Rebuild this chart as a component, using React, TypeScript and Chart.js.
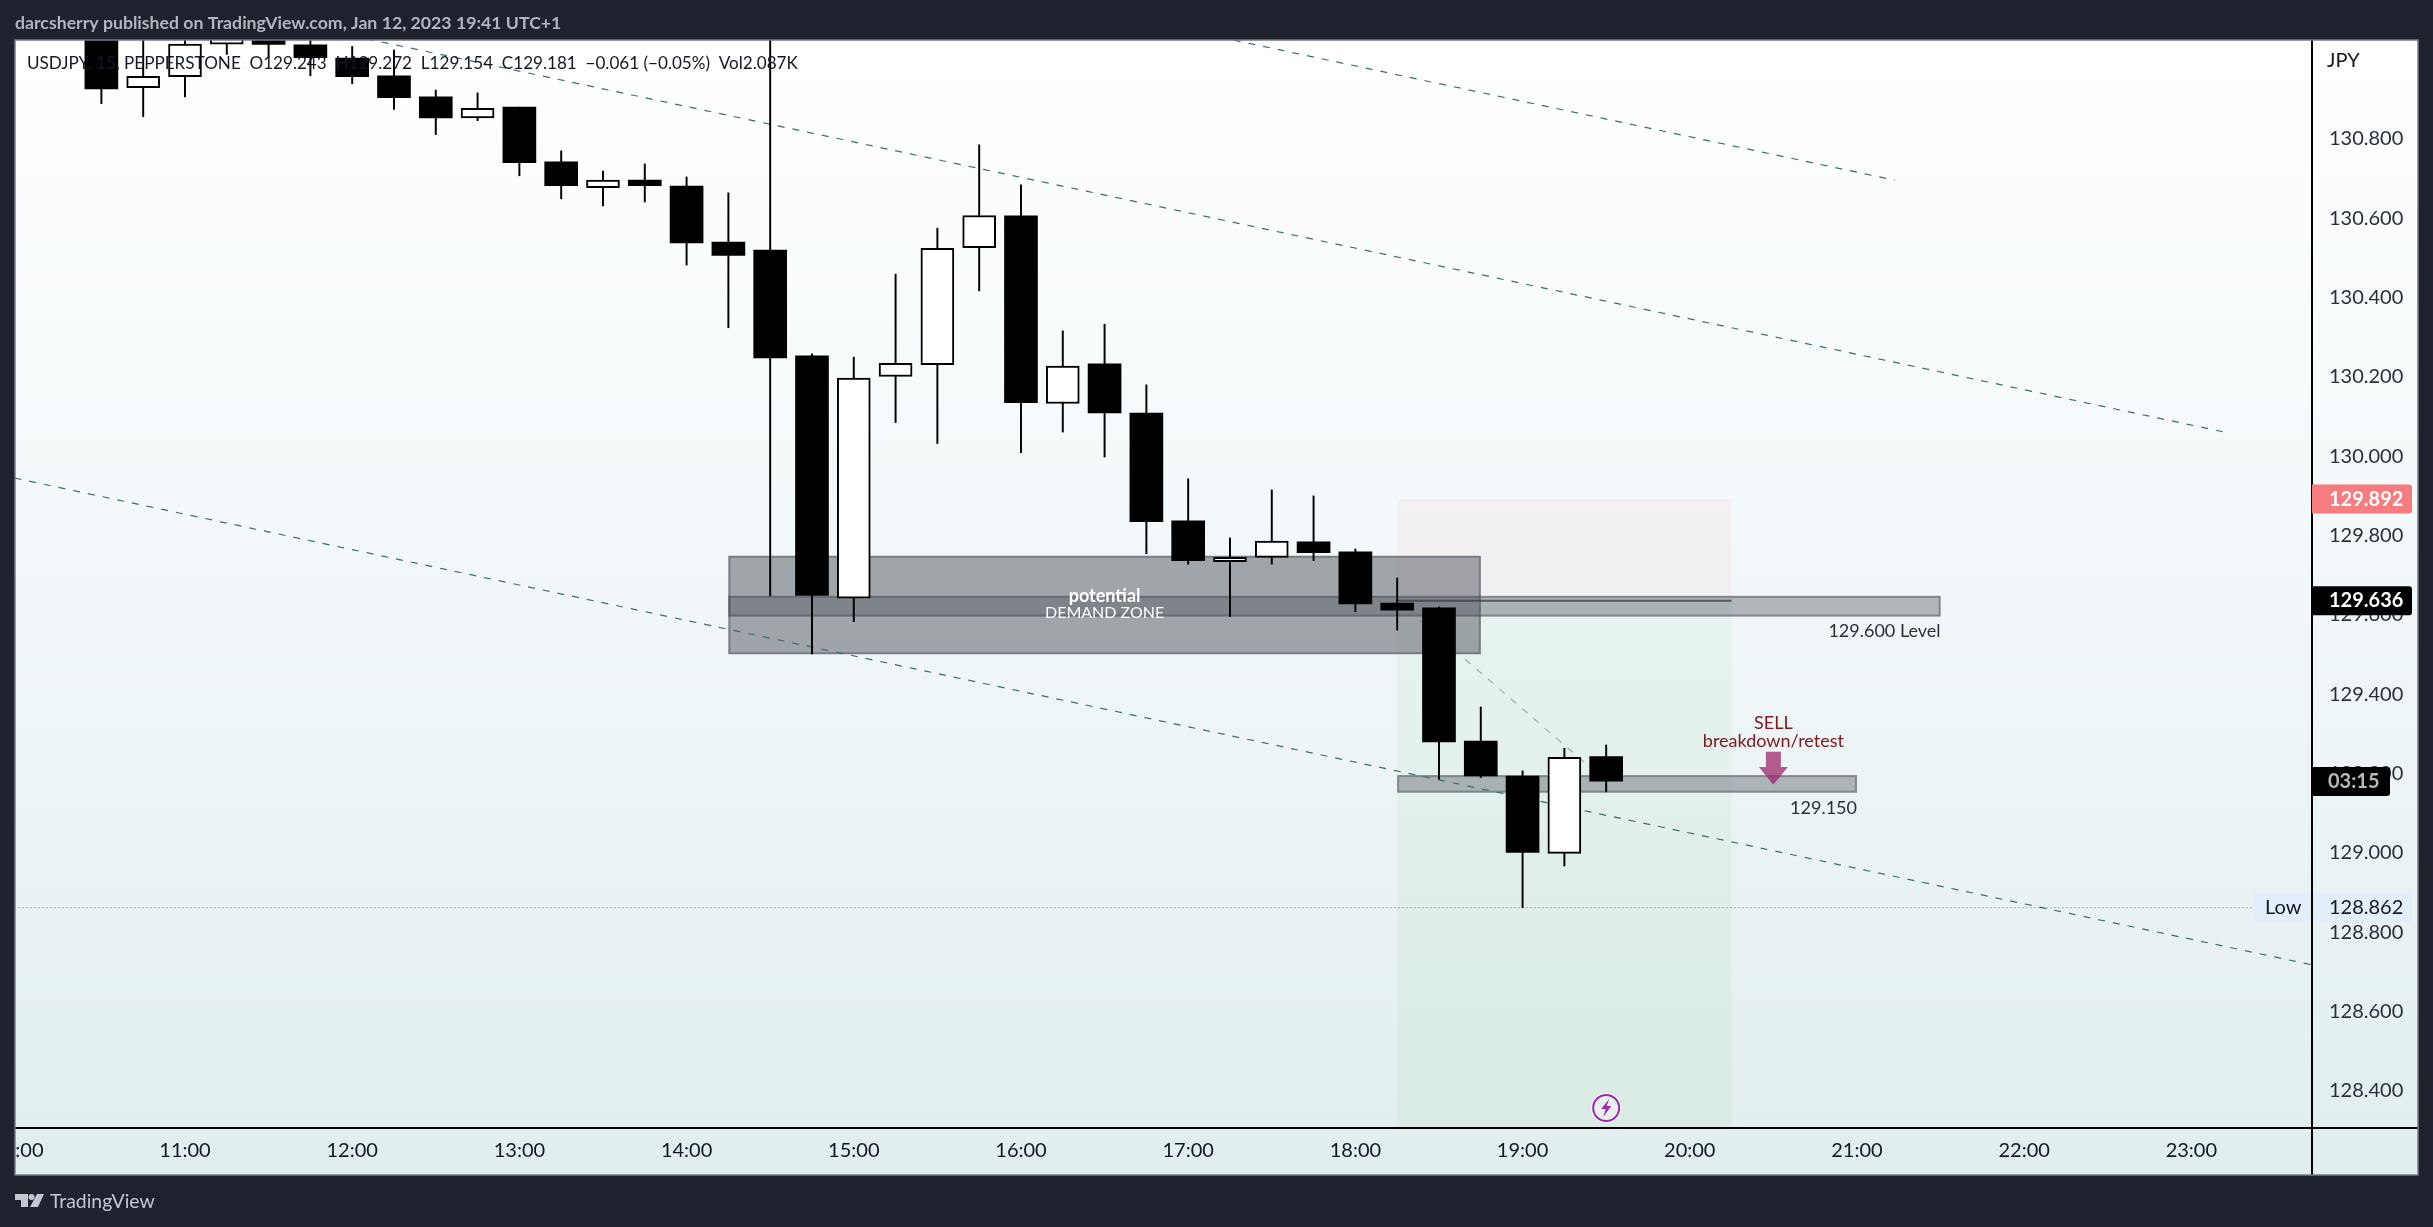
import React, { useEffect, useRef } from "react";
import { Chart, registerables } from "chart.js";

Chart.register(...registerables);

// Candles: time in hours of the day, 15 minute bars
const times = [10.5, 10.75, 11, 11.25, 11.5, 11.75, 12, 12.25, 12.5, 12.75, 13, 13.25, 13.5, 13.75, 14, 14.25, 14.5, 14.75, 15, 15.25, 15.5, 15.75, 16, 16.25, 16.5, 16.75, 17, 17.25, 17.5, 17.75, 18, 18.25, 18.5, 18.75, 19, 19.25, 19.5];
const open = [131.1, 130.929, 130.957, 131.039, 131.075, 131.037, 131.004, 130.959, 130.906, 130.853, 130.88, 130.742, 130.677, 130.696, 130.681, 130.54, 130.52, 130.253, 129.642, 130.201, 130.231, 130.526, 130.606, 130.133, 130.233, 130.109, 129.837, 129.734, 129.745, 129.784, 129.759, 129.63, 129.618, 129.282, 129.194, 128.999, 129.243];
const high = [131.125, 131.1, 131.075, 131.087, 131.095, 131.067, 131.033, 131.024, 130.923, 130.916, 130.88, 130.77, 130.719, 130.737, 130.704, 130.664, 131.12, 130.258, 130.25, 130.459, 130.575, 130.785, 130.684, 130.316, 130.333, 130.18, 129.943, 129.794, 129.915, 129.9, 129.766, 129.693, 129.62, 129.368, 129.207, 129.264, 129.272];
const low = [130.889, 130.856, 130.906, 131.013, 131.006, 130.959, 130.939, 130.874, 130.811, 130.846, 130.707, 130.649, 130.631, 130.641, 130.482, 130.324, 129.648, 129.502, 129.583, 130.085, 130.032, 130.417, 130.009, 130.061, 129.998, 129.754, 129.728, 129.596, 129.728, 129.737, 129.608, 129.562, 129.186, 129.19, 128.862, 128.967, 129.154];
const close = [130.926, 130.958, 131.039, 131.075, 131.038, 131.005, 130.957, 130.904, 130.853, 130.877, 130.74, 130.682, 130.696, 130.682, 130.538, 130.506, 130.248, 129.649, 130.197, 130.234, 130.524, 130.607, 130.135, 130.227, 130.109, 129.835, 129.737, 129.745, 129.786, 129.757, 129.628, 129.612, 129.28, 129.194, 129.001, 129.241, 129.181];

const hourTicks = [10, 11, 12, 13, 14, 15, 16, 17, 18, 19, 20, 21, 22, 23];
const priceTicks = [128.4, 128.6, 128.8, 129, 129.2, 129.4, 129.6, 129.8, 130, 130.2, 130.4, 130.6, 130.8];

// Drawings, in [hour, price] anchors
const trendUpper = [[12, 131.06], [23.219, 130.059]];
const trendTop = [[17.272, 131.049], [21.225, 130.696]];
const trendLower = [[9.98, 129.945], [23.72, 128.718]];
const tradePath = [[18.25, 129.636], [19.5, 129.181]];
const lowLine = [[9.98, 128.862], [23.37, 128.862]];
const demandZone = [14.25, 18.75, 129.749, 129.501];
const levelZone = [14.25, 21.5, 129.648, 129.596];
const retestZone = [18.25, 21, 129.196, 129.152];
const positionTimes = [18.25, 20.25];
const positionPrices = { stop: 129.892, entry: 129.636, target: 128.2 };
const lastPrice = 129.636;
const stopPrice = 129.892;
const lowPrice = 128.862;
const legendText = "USDJPY, 15, PEPPERSTONE  O129.243  H129.272  L129.154  C129.181  −0.061 (−0.05%)  Vol2.087K";
const headerText = "darcsherry published on TradingView.com, Jan 12, 2023 19:41 UTC+1";

const FONT = 'Lato, sans-serif';
const DARK = "#1e222d";
const INK = "#131722";
const WIDTH = 2433;
const HEIGHT = 1227;

function rr(ctx: CanvasRenderingContext2D, x: number, y: number, w: number, h: number) {
  ctx.beginPath();
  ctx.moveTo(x, y);
  ctx.lineTo(x + w - 3, y);
  ctx.quadraticCurveTo(x + w, y, x + w, y + 3);
  ctx.lineTo(x + w, y + h - 3);
  ctx.quadraticCurveTo(x + w, y + h, x + w - 3, y + h);
  ctx.lineTo(x, y + h);
  ctx.closePath();
  ctx.fill();
}

const scenePlugin = {
  id: "scene",
  beforeDraw(chart: any) {
    const { ctx, chartArea: a } = chart;
    ctx.save();
    ctx.fillStyle = DARK;
    ctx.fillRect(0, 0, WIDTH, HEIGHT);
    const g = ctx.createLinearGradient(0, a.top, 0, 1175);
    g.addColorStop(0, "#ffffff");
    g.addColorStop(0.5, "#f1f7f9");
    g.addColorStop(1, "#e1eeee");
    ctx.fillStyle = g;
    ctx.fillRect(a.left, a.top, 2418 - a.left, 1175 - a.top);
    ctx.restore();
  },
  beforeDatasetsDraw(chart: any) {
    const { ctx, chartArea: a, scales } = chart;
    const X = (v: number) => scales.x.getPixelForValue(v);
    const Y = (v: number) => scales.y.getPixelForValue(v);
    ctx.save();
    ctx.beginPath();
    ctx.rect(a.left, a.top, a.right - a.left, a.bottom - a.top);
    ctx.clip();
    // position tool
    const px0 = X(positionTimes[0]);
    const px1 = X(positionTimes[1]);
    ctx.fillStyle = "rgba(255,60,70,0.045)";
    ctx.fillRect(px0, Y(positionPrices.stop), px1 - px0, Y(positionPrices.entry) - Y(positionPrices.stop));
    ctx.fillStyle = "rgba(76,175,80,0.055)";
    ctx.fillRect(px0, Y(positionPrices.entry), px1 - px0, Y(positionPrices.target) - Y(positionPrices.entry));
    // zones
    const zone = (z: number[], alpha: number) => {
      const x = X(z[0]);
      const w = X(z[1]) - x;
      const y = Y(z[2]);
      const h = Y(z[3]) - y;
      ctx.fillStyle = `rgba(75,80,88,${alpha})`;
      ctx.fillRect(x, y, w, h);
      ctx.strokeStyle = "rgba(75,80,88,0.45)";
      ctx.lineWidth = 2;
      ctx.strokeRect(x + 1, y + 1, w - 2, h - 2);
    };
    zone(demandZone, 0.49);
    zone(levelZone, 0.39);
    zone(retestZone, 0.39);
    // entry line
    ctx.strokeStyle = "rgba(60,60,60,0.75)";
    ctx.lineWidth = 2;
    ctx.beginPath();
    ctx.moveTo(px0, Y(positionPrices.entry));
    ctx.lineTo(px1, Y(positionPrices.entry));
    ctx.stroke();
    ctx.restore();
  },
  afterDatasetsDraw(chart: any) {
    const { ctx, scales } = chart;
    const X = (v: number) => scales.x.getPixelForValue(v);
    const Y = (v: number) => scales.y.getPixelForValue(v);
    ctx.save();
    ctx.textBaseline = "middle";
    // legend over candles
    ctx.fillStyle = INK;
    ctx.textAlign = "left";
    ctx.font = `17.1px ${FONT}`;
    ctx.fillText(legendText, 27, 63);
    // zone captions
    ctx.textAlign = "center";
    ctx.fillStyle = "#ffffff";
    ctx.font = `bold 18px ${FONT}`;
    ctx.fillText("potential", X(16.5), Y(129.646));
    ctx.font = `16px ${FONT}`;
    ctx.fillText("DEMAND ZONE", X(16.5), Y(129.604));
    ctx.textAlign = "right";
    ctx.fillStyle = "#2a2e39";
    ctx.font = `18px ${FONT}`;
    ctx.fillText("129.600 Level", X(21.5), Y(129.558));
    ctx.fillText("129.150", X(21), Y(129.113));
    ctx.textAlign = "center";
    ctx.fillStyle = "#801922";
    ctx.font = `18px ${FONT}`;
    ctx.fillText("SELL", X(20.5), Y(129.328));
    ctx.fillText("breakdown/retest", X(20.5), Y(129.282));
    // arrow
    const ax = X(20.5);
    const top = Y(129.255);
    const tip = Y(129.172);
    const neck = top + (tip - top) * 0.46;
    ctx.fillStyle = "rgba(156,39,110,0.75)";
    ctx.beginPath();
    ctx.moveTo(ax - 7.5, top);
    ctx.lineTo(ax + 7.5, top);
    ctx.lineTo(ax + 7.5, neck);
    ctx.lineTo(ax + 14.5, neck);
    ctx.lineTo(ax, tip);
    ctx.lineTo(ax - 14.5, neck);
    ctx.lineTo(ax - 7.5, neck);
    ctx.closePath();
    ctx.fill();
    // lightning mark
    const lx = X(19.5);
    const ly = Y(128.357);
    ctx.beginPath();
    ctx.arc(lx, ly, 15, 0, Math.PI * 2);
    ctx.fillStyle = "#ffffff";
    ctx.fill();
    ctx.beginPath();
    ctx.arc(lx, ly, 13, 0, Math.PI * 2);
    ctx.fillStyle = "#e6f1ee";
    ctx.fill();
    ctx.strokeStyle = "#9c27b0";
    ctx.lineWidth = 2;
    ctx.stroke();
    ctx.fillStyle = "#9c27b0";
    ctx.beginPath();
    ctx.moveTo(lx + 3, ly - 9);
    ctx.lineTo(lx - 5, ly + 1);
    ctx.lineTo(lx - 0.5, ly + 1);
    ctx.lineTo(lx - 3, ly + 9);
    ctx.lineTo(lx + 5, ly - 2);
    ctx.lineTo(lx + 0.5, ly - 2);
    ctx.closePath();
    ctx.fill();
    ctx.restore();
  },
  afterDraw(chart: any) {
    const { ctx, chartArea: a, scales } = chart;
    const Y = (v: number) => scales.y.getPixelForValue(v);
    ctx.save();
    // clip left overflow of the time axis
    ctx.fillStyle = DARK;
    ctx.fillRect(0, a.top, a.left, 1175 - a.top);
    // axis lines
    ctx.fillStyle = "#000000";
    ctx.fillRect(a.right - 1, a.top, 2, 1175 - a.top);
    ctx.fillRect(a.left, a.bottom - 1, 2418 - a.left, 2);
    // frame
    ctx.strokeStyle = "#787b86";
    ctx.lineWidth = 1.5;
    ctx.strokeRect(a.left, a.top, 2418 - a.left, 1175 - a.top);
    ctx.textBaseline = "middle";
    ctx.textAlign = "left";
    // price boxes
    const bx = a.right;
    const bw = 100;
    ctx.font = `20px ${FONT}`;
    ctx.fillStyle = INK;
    ctx.fillText("JPY", 2327, 61);
    // low label
    const ly = Y(lowPrice);
    ctx.fillStyle = "#e3eefb";
    ctx.fillRect(2254, ly - 14.5, 57, 29);
    rr(ctx, bx + 1, ly - 14.5, bw - 1, 29);
    ctx.fillStyle = INK;
    ctx.fillText("Low", 2265, ly);
    ctx.fillText("128.862", 2329, ly);
    // stop box
    const sy = Y(stopPrice);
    ctx.fillStyle = "#f77c80";
    rr(ctx, bx, sy - 14.5, bw, 29);
    ctx.fillStyle = "#ffffff";
    ctx.font = `bold 20px ${FONT}`;
    ctx.fillText("129.892", 2329, sy);
    // last price
    const py = Y(lastPrice);
    ctx.fillStyle = "#000000";
    rr(ctx, bx, py - 14.5, bw, 29);
    ctx.fillStyle = "#ffffff";
    ctx.fillText("129.636", 2329, py);
    // countdown
    ctx.fillStyle = "#000000";
    rr(ctx, bx, 767, 78, 29);
    ctx.fillStyle = "#b8b8b8";
    ctx.font = `bold 20px ${FONT}`;
    ctx.fillText("03:15", 2328, 781.5);
    // header
    ctx.fillStyle = "#b2b5be";
    ctx.font = `bold 17.7px ${FONT}`;
    ctx.fillText(headerText, 15, 23);
    // footer logo
    ctx.fillStyle = "#c4c7cf";
    ctx.beginPath();
    ctx.moveTo(15, 1194);
    ctx.lineTo(28, 1194);
    ctx.lineTo(28, 1207);
    ctx.lineTo(21, 1207);
    ctx.lineTo(21, 1200);
    ctx.lineTo(15, 1200);
    ctx.closePath();
    ctx.fill();
    ctx.beginPath();
    ctx.arc(31.5, 1197, 3, 0, Math.PI * 2);
    ctx.fill();
    ctx.beginPath();
    ctx.moveTo(37, 1194);
    ctx.lineTo(44, 1194);
    ctx.lineTo(38, 1207);
    ctx.lineTo(30, 1207);
    ctx.closePath();
    ctx.fill();
    ctx.font = `19.4px ${FONT}`;
    ctx.fillText("TradingView", 50, 1202);
    ctx.restore();
  },
};

const toPoints = (pts: number[][]) => pts.map(([x, y]) => ({ x, y }));

export default function App() {
  const ref = useRef<HTMLCanvasElement | null>(null);
  useEffect(() => {
    document.body.style.margin = "0";
    document.body.style.background = DARK;
    const isUp = (i: number) => close[i] >= open[i];
    const idx = times.map((_, i) => i);
    const lineSet = (pts: number[][], color: string, dash: number[], width: number) => ({
      type: "line",
      data: toPoints(pts),
      borderColor: color,
      borderDash: dash,
      borderWidth: width,
      pointRadius: 0,
      fill: false,
      tension: 0,
      order: 9,
    });
    const chart = new Chart(ref.current as HTMLCanvasElement, {
      type: "bar",
      data: {
        datasets: [
          lineSet(trendUpper, "#3d6e68", [7, 8], 1.2),
          lineSet(trendTop, "#3d6e68", [7, 8], 1.2),
          lineSet(trendLower, "#3d6e68", [7, 8], 1.2),
          lineSet(tradePath, "rgba(110,130,125,0.6)", [7, 8], 1.2),
          lineSet(lowLine, "#69757a", [1, 3], 1),
          {
            type: "bar",
            data: idx.map((i) => ({ x: times[i], y: [low[i], high[i]] })),
            backgroundColor: "#000000",
            borderWidth: 0,
            barThickness: 1.3,
            grouped: false,
            order: 3,
          },
          {
            type: "bar",
            data: idx.filter((i) => !isUp(i)).map((i) => ({ x: times[i], y: [close[i], open[i]] })),
            backgroundColor: "#000000",
            borderWidth: 0,
            barThickness: 33,
            grouped: false,
            order: 1,
          },
          {
            type: "bar",
            data: idx.filter(isUp).map((i) => ({ x: times[i], y: [open[i], close[i]] })),
            backgroundColor: "#ffffff",
            borderColor: "#000000",
            borderWidth: 2,
            borderSkipped: false,
            barThickness: 33,
            grouped: false,
            order: 1,
          },
        ],
      } as any,
      options: {
        responsive: false,
        maintainAspectRatio: false,
        animation: false,
        events: [],
        layout: { padding: { left: 15, top: 40, right: 15, bottom: 52 } },
        plugins: { legend: { display: false }, tooltip: { enabled: false } },
        scales: {
          x: {
            type: "linear",
            offset: false,
            min: 9.9833,
            max: 23.7215,
            grid: { display: false, drawTicks: false, offset: false },
            border: { display: false },
            afterBuildTicks: (s: any) => {
              s.ticks = hourTicks.map((value) => ({ value }));
            },
            afterFit: (s: any) => {
              s.height = 47;
              s.paddingLeft = 0;
              s.paddingRight = 0;
            },
            ticks: {
              autoSkip: false,
              maxRotation: 0,
              padding: 11,
              color: INK,
              font: { family: "Lato", size: 20 },
              callback: (v: any) => `${v}:00`,
            },
          },
          y: {
            type: "linear",
            position: "right",
            min: 128.3066,
            max: 131.0493,
            grid: { display: false, drawTicks: false },
            border: { display: false },
            afterBuildTicks: (s: any) => {
              s.ticks = priceTicks.map((value) => ({ value }));
            },
            afterFit: (s: any) => {
              s.width = 106;
              s.paddingTop = 0;
              s.paddingBottom = 0;
            },
            ticks: {
              autoSkip: false,
              padding: 17,
              crossAlign: "near",
              color: "#2a2e39",
              font: { family: "Lato", size: 20 },
              callback: (v: any) => Number(v).toFixed(3),
            },
          },
        },
      } as any,
      plugins: [scenePlugin],
    });
    return () => chart.destroy();
  }, []);
  return <canvas ref={ref} width={WIDTH} height={HEIGHT} style={{ display: "block", width: WIDTH, height: HEIGHT }} />;
}
